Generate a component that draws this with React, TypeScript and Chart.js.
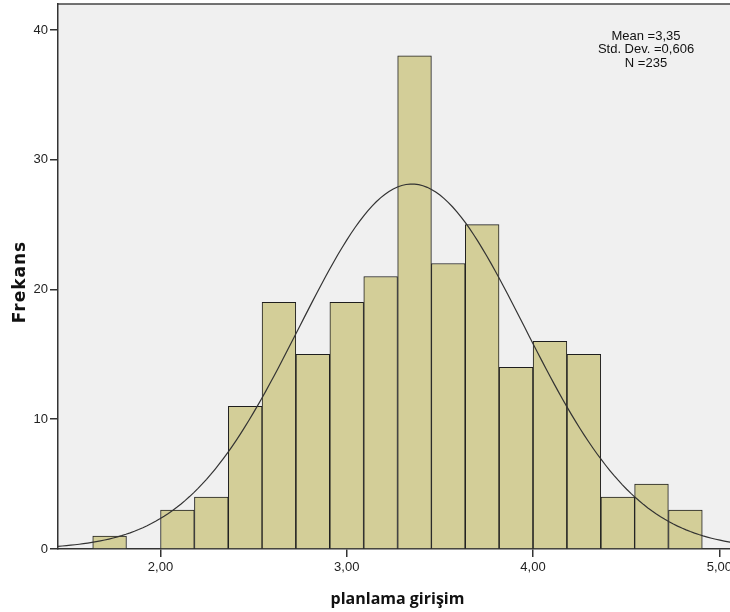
import React, { useEffect, useRef } from "react";
import { Chart, registerables } from "chart.js";

Chart.register(...registerables);

// Histogram bins (centers) and frequencies
const BIN_CENTERS = [1.727, 1.909, 2.091, 2.273, 2.455, 2.636, 2.818, 3.0, 3.182, 3.364, 3.545, 3.727, 3.909, 4.091, 4.273, 4.455, 4.636, 4.818];
const COUNTS = [1, 0, 3, 4, 11, 19, 15, 19, 21, 38, 22, 25, 14, 16, 15, 4, 5, 3];
const BIN_WIDTH = 2 / 11;

// Summary statistics shown in the chart
const MEAN = 3.35;
const STD_DEV = 0.606;
const N = 235;
const STATS_LINES = ["Mean =3,35", "Std. Dev. =0,606", "N =235"];

// Axis ticks and titles
const X_TICKS = [2, 3, 4, 5];
const Y_TICKS = [0, 10, 20, 30, 40];
const X_MIN = 1.45;
const X_MAX = 5.095;
const Y_MAX = 42;
const X_TITLE = "planlama girişim";
const Y_TITLE = "Frekans";

// Normal curve fitted from the stated mean / std. dev. / N
function normalCurve() {
  const pts: { x: number; y: number }[] = [];
  const k = (N * BIN_WIDTH) / (STD_DEV * Math.sqrt(2 * Math.PI));
  for (let i = 0; i <= 160; i++) {
    const x = X_MIN + ((X_MAX - X_MIN) * i) / 160;
    const z = (x - MEAN) / STD_DEV;
    pts.push({ x, y: k * Math.exp(-0.5 * z * z) });
  }
  return pts;
}

const bgPlugin = {
  id: "plotBg",
  beforeDraw(chart: any) {
    const { ctx, chartArea } = chart;
    ctx.save();
    ctx.fillStyle = "#f0f0f0";
    ctx.fillRect(chartArea.left, chartArea.top, chartArea.right - chartArea.left, chartArea.bottom - chartArea.top);
    ctx.strokeStyle = "#444";
    ctx.lineWidth = 1.5;
    ctx.beginPath();
    ctx.moveTo(chartArea.left, chartArea.top);
    ctx.lineTo(chartArea.right, chartArea.top);
    ctx.stroke();
    ctx.restore();
  },
};

const textPlugin = {
  id: "texts",
  afterDraw(chart: any) {
    const { ctx } = chart;
    ctx.save();
    ctx.font = '13px "Liberation Sans", Arial, sans-serif';
    ctx.fillStyle = "#111";
    ctx.textAlign = "center";
    ctx.textBaseline = "middle";
    STATS_LINES.forEach((t, i) => ctx.fillText(t, 646, 36 + i * 13.5));
    ctx.restore();

    // Y axis title
    ctx.save();
    ctx.translate(25, 282);
    ctx.rotate(-Math.PI / 2);
    ctx.font = 'bold 17px "DejaVu Sans", sans-serif';
    (ctx as any).letterSpacing = "1px";
    ctx.fillStyle = "#111";
    ctx.textAlign = "center";
    ctx.textBaseline = "alphabetic";
    ctx.fillText(Y_TITLE, 0, 0);
    ctx.restore();
  },
};

export default function App() {
  const ref = useRef<HTMLCanvasElement>(null);
  useEffect(() => {
    if (!ref.current) return;
    const tickFont = { family: '"Liberation Sans", Arial, sans-serif', size: 13 };
    const chart = new Chart(ref.current, {
      type: "bar",
      data: {
        datasets: [
          {
            type: "line",
            data: normalCurve(),
            borderColor: "#333",
            borderWidth: 1.2,
            pointRadius: 0,
            tension: 0,
            fill: false,
            order: 1,
          } as any,
          {
            type: "bar",
            data: BIN_CENTERS.map((x, i) => ({ x, y: COUNTS[i] })),
            backgroundColor: "#d3ce98",
            borderColor: "#1e1e1e",
            borderWidth: 1,
            barPercentage: 1,
            categoryPercentage: 1,
            order: 2,
          } as any,
        ],
      },
      options: {
        responsive: false,
        animation: false,
        layout: { padding: { top: 4, right: 23, left: 0, bottom: 0 } },
        plugins: { legend: { display: false }, tooltip: { enabled: false } },
        scales: {
          x: {
            type: "linear",
            min: X_MIN,
            max: X_MAX,
            offset: false,
            afterFit: (s: any) => {
              s.height = 63;
              s.paddingLeft = 0;
              s.paddingRight = 0;
            },
            afterBuildTicks: (s: any) => {
              s.ticks = X_TICKS.map((v) => ({ value: v }));
            },
            ticks: {
              font: tickFont,
              color: "#222",
              padding: 3,
              maxRotation: 0,
              callback: (v: any) => Number(v).toFixed(2).replace(".", ","),
            },
            grid: { offset: false, drawOnChartArea: false, drawTicks: true, tickLength: 8, color: "#333", lineWidth: 1.5 },
            border: { color: "#333", width: 1.5 },
            title: {
              display: true,
              text: X_TITLE,
              font: { family: '"Open Sans", sans-serif', size: 16, weight: "bold" },
              color: "#111",
              padding: { top: 0, bottom: 3 },
            },
          },
          y: {
            min: 0,
            max: Y_MAX,
            afterFit: (s: any) => {
              s.width = 58;
              s.paddingTop = 0;
              s.paddingBottom = 0;
            },
            afterBuildTicks: (s: any) => {
              s.ticks = Y_TICKS.map((v) => ({ value: v }));
            },
            ticks: { font: tickFont, color: "#222", padding: 2 },
            grid: { drawOnChartArea: false, drawTicks: true, tickLength: 8, color: "#333", lineWidth: 1.5 },
            border: { color: "#333", width: 1.5 },
            title: { display: false },
          },
        },
      },
      plugins: [bgPlugin, textPlugin],
    });
    return () => chart.destroy();
  }, []);
  return (
    <div style={{ position: "fixed", left: 0, top: 0, width: 730, height: 612, overflow: "hidden", background: "#fff" }}>
      <canvas ref={ref} width={760} height={612} style={{ display: "block" }} />
    </div>
  );
}
